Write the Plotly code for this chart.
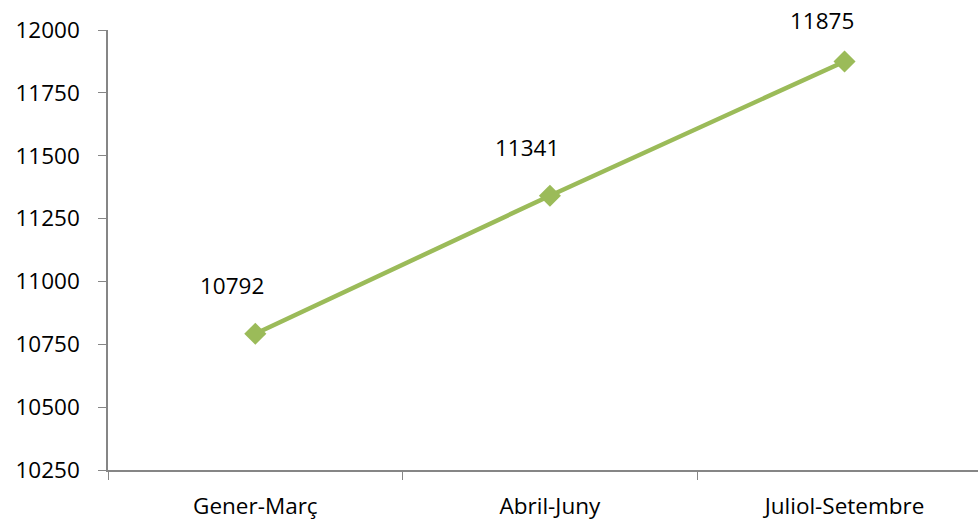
import plotly.graph_objects as go

# Quarterly totals
quarters = ["Gener-Març", "Abril-Juny", "Juliol-Setembre"]
totals = [10792, 11341, 11875]

y_ticks = [10250, 10500, 10750, 11000, 11250, 11500, 11750, 12000]

LINE_GREEN = "#9BBB59"
AXIS_GREY = "#868686"
FONT = "Open Sans"
FSIZE = 22.5

fig = go.Figure()
fig.add_trace(go.Scatter(
    x=quarters,
    y=totals,
    mode="lines+markers",
    line=dict(color=LINE_GREEN, width=4.5),
    marker=dict(symbol="diamond", size=17, color=LINE_GREEN),
    cliponaxis=False,
    hoverinfo="skip",
))

# Value labels sit above and to the left of each point;
# the topmost one is nudged down to stay inside the chart.
label_lift = [48, 48, 41]
for q, v, lift in zip(quarters, totals, label_lift):
    fig.add_annotation(
        x=q, y=v, text=str(v), showarrow=False,
        xshift=-23, yshift=lift,
        font=dict(family=FONT, size=FSIZE, color="#000000"),
    )

fig.update_layout(
    width=978, height=521,
    margin=dict(l=108, r=0, t=30, b=51),
    paper_bgcolor="white",
    plot_bgcolor="white",
    showlegend=False,
    font=dict(family=FONT, size=FSIZE, color="#000000"),
)

fig.update_xaxes(
    type="category",
    range=[-0.5, 2.453],
    tickson="boundaries",
    showgrid=False,
    zeroline=False,
    showline=True,
    linecolor=AXIS_GREY,
    linewidth=1.5,
    ticks="outside",
    ticklen=8,
    tickcolor=AXIS_GREY,
    tickfont=dict(family=FONT, size=FSIZE, color="#000000"),
    ticklabelstandoff=15,
)

fig.update_yaxes(
    range=[10250, 12000],
    tickmode="array",
    tickvals=y_ticks,
    ticktext=[str(t) for t in y_ticks],
    showgrid=False,
    zeroline=False,
    showline=True,
    linecolor=AXIS_GREY,
    linewidth=1.5,
    ticks="outside",
    ticklen=8,
    tickcolor=AXIS_GREY,
    tickfont=dict(family=FONT, size=FSIZE, color="#000000"),
    ticklabelstandoff=14,
)

fig.write_html("out.html")
